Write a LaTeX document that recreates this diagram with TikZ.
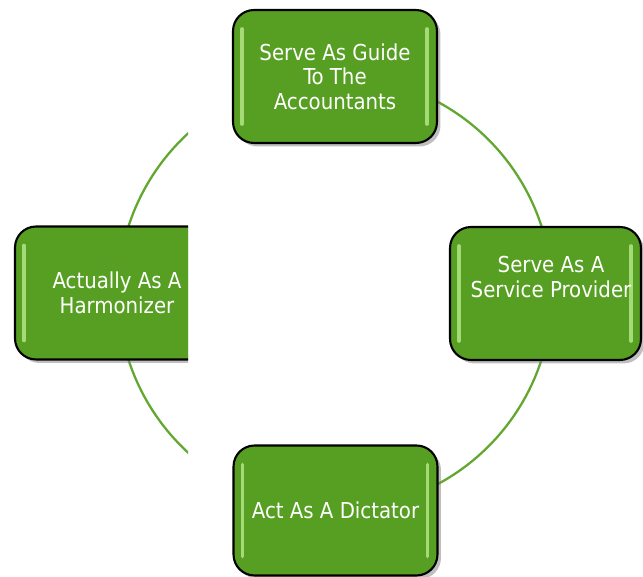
\documentclass[tikz,border=0pt]{standalone}
\usepackage{fontspec}
\setmainfont{DejaVu Sans Condensed}
\usetikzlibrary{shadows}
\definecolor{cyclegreen}{RGB}{86,159,34}
\definecolor{cyclerim}{RGB}{184,234,140}
\definecolor{cycleline}{RGB}{98,168,48}

\begin{document}
\begin{tikzpicture}[
    x=0.02cm, y=-0.02cm,
    stage/.style={rectangle, rounded corners=0.42cm, draw=black, line width=1.2pt, fill=cyclegreen, minimum width=4.08cm, minimum height=2.66cm, drop shadow={shadow xshift=0.07cm, shadow yshift=-0.07cm, fill=black!50, opacity=0.5}},
    stagetext/.style={text=white, align=center, font=\fontsize{12.5}{14}\selectfont},
    rim/.style={cyclerim, line width=2pt, line cap=round, opacity=0.8},
    ring/.style={cycleline, line width=1.3pt}
]
\useasboundingbox (0,0) rectangle (643,577);
\coordinate (hub) at (335,293);

% left part of the ring and the left box
\begin{scope}
  \clip (0,0) rectangle (188,577);
  \draw[ring] (hub) circle[radius=4.34cm];
  \node[stage] (harmonizer) at (117,293) {};
  \draw[rim] ([xshift=0.2cm, yshift=-0.4cm]harmonizer.north west) -- ([xshift=0.2cm, yshift=0.4cm]harmonizer.south west);
  \node[stagetext] at (harmonizer.center) {Actually As A\\Harmonizer};
\end{scope}

% right part of the ring
\begin{scope}
  \clip (236,0) rectangle (643,577);
  \draw[ring] (hub) circle[radius=4.34cm];
\end{scope}

\node[stage] (guide) at (335,76.5) {};
\node[stage, minimum width=3.82cm] (provider) at (545.5,293.5) {};
\node[stage, minimum height=2.6cm] (dictator) at (335.5,510.5) {};

\foreach \n in {guide,provider,dictator} {
  \draw[rim] ([xshift=0.2cm, yshift=-0.4cm]\n.north west) -- ([xshift=0.2cm, yshift=0.4cm]\n.south west);
  \draw[rim] ([xshift=-0.22cm, yshift=-0.4cm]\n.north east) -- ([xshift=-0.22cm, yshift=0.4cm]\n.south east);
}

\node[stagetext] at (guide.center) {Serve As Guide\\To The\\Accountants};
\node[stagetext] at (551,277) {Serve As A\\Service Provider};
\node[stagetext] at (dictator.center) {Act As A Dictator};

\end{tikzpicture}
\end{document}
